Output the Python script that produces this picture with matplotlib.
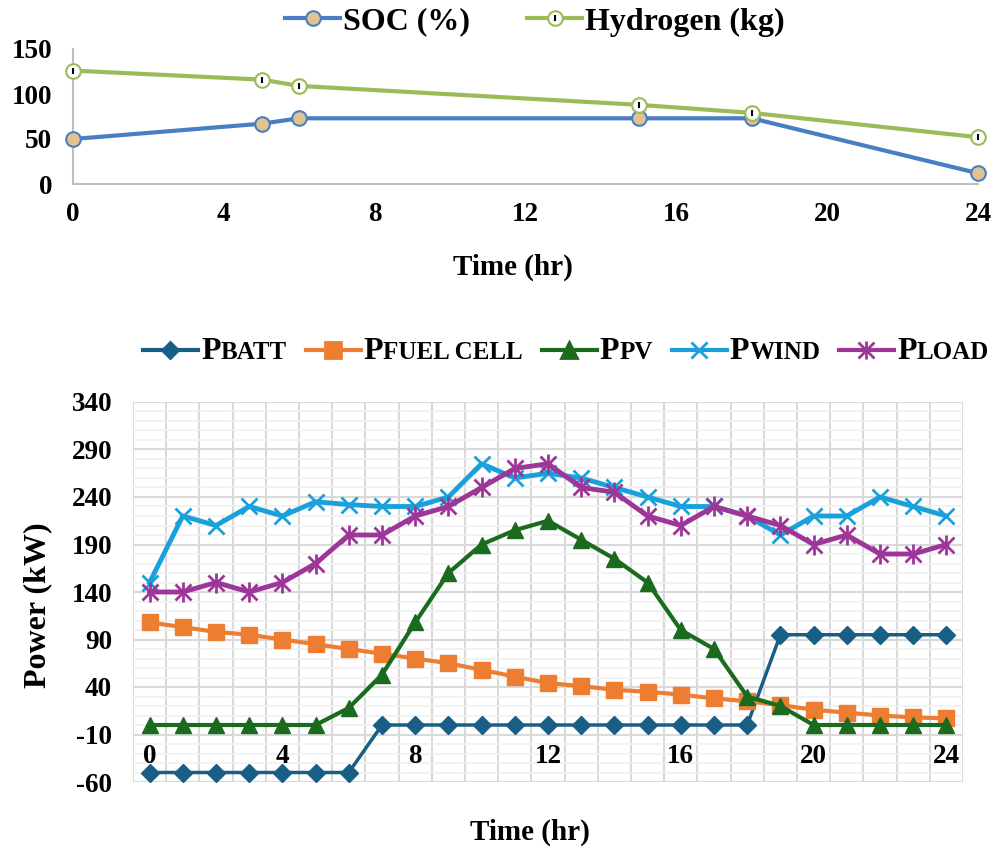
import matplotlib
matplotlib.use("Agg")
import matplotlib.pyplot as plt
from matplotlib.lines import Line2D

plt.rcParams['font.family'] = ['Liberation Serif', 'DejaVu Serif']
plt.rcParams['font.weight'] = 'bold'
plt.rcParams['axes.unicode_minus'] = False

# ---- data: top chart ----
state_hours = [0, 5, 6, 15, 18, 24]
soc_pct = [50, 67, 73, 73, 73, 12]
hydrogen_kg = [126, 116, 109, 88, 79, 52]

# ---- data: bottom chart ----
hours = list(range(25))
p_batt = [-50, -50, -50, -50, -50, -50, -50, 0, 0, 0, 0, 0, 0, 0, 0, 0, 0, 0, 0,
          95, 95, 95, 95, 95, 95]
p_fuel = [108, 103, 98, 95, 90, 85, 80, 75, 70, 65, 58, 51, 44, 41, 37, 35, 32,
          28, 25, 21, 16, 13, 10, 8, 7]
p_pv = [0, 0, 0, 0, 0, 0, 18, 53, 108, 160, 190, 205, 215, 195, 175, 150, 100,
        80, 30, 20, 0, 0, 0, 0, 0]
p_wind = [150, 220, 210, 230, 220, 235, 232, 230, 230, 240, 275, 260, 265, 260,
          250, 240, 230, 230, 220, 200, 220, 220, 240, 230, 220]
p_load = [140, 140, 150, 140, 150, 170, 200, 200, 220, 230, 250, 270, 275, 250,
          245, 220, 210, 230, 220, 210, 190, 200, 180, 180, 190]
hour_labels = ['0', '4', '8', '12', '16', '20', '24']

# colours
C_SOC, C_SOC_FILL, C_H2 = '#4A7EC2', '#E2C28E', '#9BBB59'
C_BATT, C_FUEL, C_PV, C_WIND, C_LOAD = '#185E85', '#ED7D31', '#1B6B1F', '#1AA1DB', '#9E3598'
GRID = '#D9D9D9'
TICK_FS = 19.5

W, H = 993, 850
fig = plt.figure(figsize=(W / 100, H / 100), dpi=100)

# ================= top chart =================
ax1 = fig.add_axes([73 / W, 1 - 184 / H, (978 - 73) / W, (184 - 49) / H])
soc_line, = ax1.plot(state_hours, soc_pct, color=C_SOC, lw=3, marker='o', ms=10.5,
                     mfc=C_SOC_FILL, mec=C_SOC, mew=1.5, zorder=3)
h2_line, = ax1.plot(state_hours, hydrogen_kg, color=C_H2, lw=3, marker='o', ms=10.5,
                    mfc='white', mec=C_H2, mew=1.5, zorder=3)
h2_tick, = ax1.plot(state_hours, hydrogen_kg, ls='none', marker='|', ms=5,
                    mec='black', mew=1.5, zorder=4)
ax1.set_xlim(0, 24)
ax1.set_ylim(0, 150)
ax1.set_xticks(range(0, 25, 4))
ax1.set_yticks([0, 50, 100, 150])
for s in ['top', 'right']:
    ax1.spines[s].set_visible(False)
for s in ['left', 'bottom']:
    ax1.spines[s].set_color('#BFBFBF')
    ax1.spines[s].set_linewidth(1.5)
ax1.tick_params(axis='both', length=0, labelsize=TICK_FS)
ax1.tick_params(axis='y', pad=15)
ax1.tick_params(axis='x', pad=13)
for ln in (soc_line, h2_line, h2_tick):
    ln.set_clip_on(False)
fig.text(513 / W, 1 - 267 / H, 'Time (hr)', ha='center', va='center', fontsize=21,
         fontweight='bold')

fig.legend([soc_line, (h2_line, h2_tick)], ['SOC (%)', 'Hydrogen (kg)'],
           loc='center', bbox_to_anchor=(535 / W, 1 - 22 / H), ncol=2,
           frameon=False, fontsize=23, handlelength=1.7, handletextpad=0.1,
           columnspacing=1.8)

# ================= bottom chart =================
ax2 = fig.add_axes([133 / W, 1 - 782 / H, (963 - 133) / W, (782 - 402) / H])
ax2.plot(hours, p_batt, color=C_BATT, lw=2.5, marker='D', ms=9.5, zorder=3)
ax2.plot(hours, p_fuel, color=C_FUEL, lw=3, marker='s', ms=12, zorder=3)
ax2.plot(hours, p_pv, color=C_PV, lw=3, marker='^', ms=12, zorder=3)
ax2.plot(hours, p_wind, color=C_WIND, lw=3.5, marker='x', ms=12, mew=2, zorder=3)
ax2.plot(hours, p_load, color=C_LOAD, lw=3.5, marker='x', ms=12, mew=2, zorder=3)
ax2.plot(hours, p_load, ls='none', color=C_LOAD, marker='|', ms=14, mew=2, zorder=3)

ax2.set_xlim(-0.5, 24.5)
ax2.set_ylim(-60, 340)
ax2.set_yticks(range(-60, 341, 50))
ax2.set_yticks(range(-60, 341, 10), minor=True)
ax2.set_xticks([h - 0.5 for h in range(26)])
ax2.set_xticklabels([])
ax2.grid(True, which='major', color=GRID, lw=1.5)
ax2.grid(True, which='minor', axis='y', color='#F0F0F0', lw=1.2)
ax2.set_axisbelow(True)
for s in ax2.spines.values():
    s.set_visible(False)
ax2.tick_params(axis='both', which='both', length=0)
ax2.tick_params(axis='y', labelsize=TICK_FS, pad=15)
for i, lab in zip(range(0, 25, 4), hour_labels):
    ax2.text(i, 0.066, lab, transform=ax2.get_xaxis_transform(), ha='center',
             va='center', fontsize=TICK_FS, fontweight='bold')
fig.text(38 / W, 1 - 605 / H, 'Power (kW)', rotation=90, ha='center', va='center',
         fontsize=23, fontweight='bold')
fig.text(530 / W, 1 - 832 / H, 'Time (hr)', ha='center', va='center', fontsize=21,
         fontweight='bold')

# ---- bottom legend with small-caps style labels ----
fig.canvas.draw()
renderer = fig.canvas.get_renderer()
leg_items = [
    (C_BATT, 'D', 8.5, 'BATT'),
    (C_FUEL, 's', 11.5, 'FUEL CELL'),
    (C_PV, '^', 11.5, 'PV'),
    (C_WIND, 'x', 11.5, 'WIND'),
    (C_LOAD, 'x', 11.5, 'LOAD'),
]
x = 143
ymid = 350
ybase = 359
for color, mk, ms, rest in leg_items:
    xs = [x / W, (x + 27) / W, (x + 55) / W]
    ys = [1 - ymid / H] * 3
    fig.add_artist(Line2D(xs, ys, transform=fig.transFigure, color=color, lw=3,
                          marker=mk, ms=ms, mew=2, markevery=[1]))
    if rest == 'LOAD':
        fig.add_artist(Line2D([xs[1]], [ys[1]], transform=fig.transFigure,
                              ls='none', color=color, marker='|', ms=13, mew=2))
    t1 = fig.text((x + 58) / W, 1 - ybase / H, 'P', fontsize=23, fontweight='bold',
                  va='baseline')
    bb = t1.get_window_extent(renderer)
    t2 = fig.text(bb.x1 / W, 1 - ybase / H, rest, fontsize=18, fontweight='bold',
                  va='baseline')
    bb2 = t2.get_window_extent(renderer)
    x = bb2.x1 + 19

fig.savefig('out.png', dpi=100)
